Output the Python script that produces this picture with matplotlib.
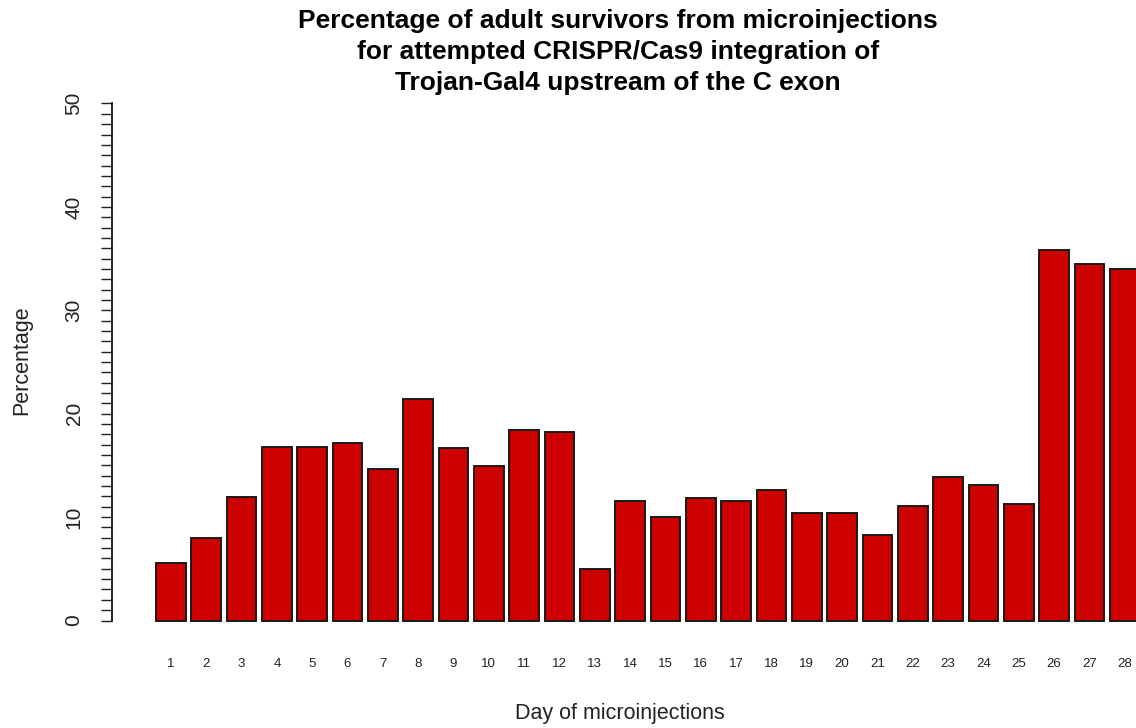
import matplotlib
matplotlib.use("Agg")
import matplotlib.pyplot as plt
from matplotlib.ticker import FixedLocator
import numpy as np

plt.rcParams['font.family'] = ['Liberation Sans', 'DejaVu Sans']

days = [str(d) for d in range(1, 29)]
survival_pct = [5.6, 8.0, 11.9, 16.8, 16.8, 17.2, 14.7, 21.4, 16.7, 14.9,
                18.4, 18.2, 5.0, 11.6, 10.0, 11.8, 11.6, 12.6, 10.4, 10.4,
                8.3, 11.1, 13.9, 13.1, 11.3, 35.8, 34.5, 34.0]
title_lines = ["Percentage of adult survivors from microinjections",
               "for attempted CRISPR/Cas9 integration of",
               "Trojan-Gal4 upstream of the C exon"]

W, H = 1136, 728
fig = plt.figure(figsize=(W / 100, H / 100), dpi=100)

# plot region in pixel terms (R-style barplot: width 1, space 0.2)
left_px, right_px = 112, 1136
top_px, bot_px = 82.8, 641.2
ax = fig.add_axes([left_px / W, 1 - bot_px / H,
                   (right_px - left_px) / W, (bot_px - top_px) / H])

centers = 0.7 + 1.2 * np.arange(len(days))
ax.bar(centers, survival_pct, width=1.0, color='#CD0000',
       edgecolor='#1a1a1a', linewidth=1.4)

ax.set_xlim(-1.30, 33.48)
ax.set_ylim(-2, 52)

for s in ['top', 'right', 'bottom']:
    ax.spines[s].set_visible(False)
ax.spines['left'].set_bounds(0, 50)
ax.spines['left'].set_linewidth(1.2)

ax.yaxis.set_major_locator(FixedLocator(np.arange(0, 51, 10)))
ax.yaxis.set_minor_locator(FixedLocator([v for v in range(0, 51) if v % 10]))
ax.tick_params(axis='y', which='both', length=8, width=1.0, color='#222222')
ax.tick_params(axis='y', which='major', labelsize=15, pad=12.5)
for lab in ax.get_yticklabels():
    lab.set_rotation(90)
    lab.set_va('center')
    lab.set_color('#222222')

ax.set_xticks(centers)
ax.set_xticklabels(days)
ax.tick_params(axis='x', length=0, labelsize=9.5, pad=12, labelcolor='#222222')

fig.text(22 / W, 1 - 360 / H, "Percentage", rotation=90, ha='center',
         va='center', fontsize=15.5, color='#222222')
fig.text(620 / W, 1 - 714 / H, "Day of microinjections", ha='center',
         va='center', fontsize=15.5, color='#222222')

for i, line in enumerate(title_lines):
    fig.text(618 / W, 1 - (21 + 31 * i) / H, line, ha='center', va='center',
             fontsize=19, fontweight='bold', color='black')

fig.savefig("out.png", dpi=100)
